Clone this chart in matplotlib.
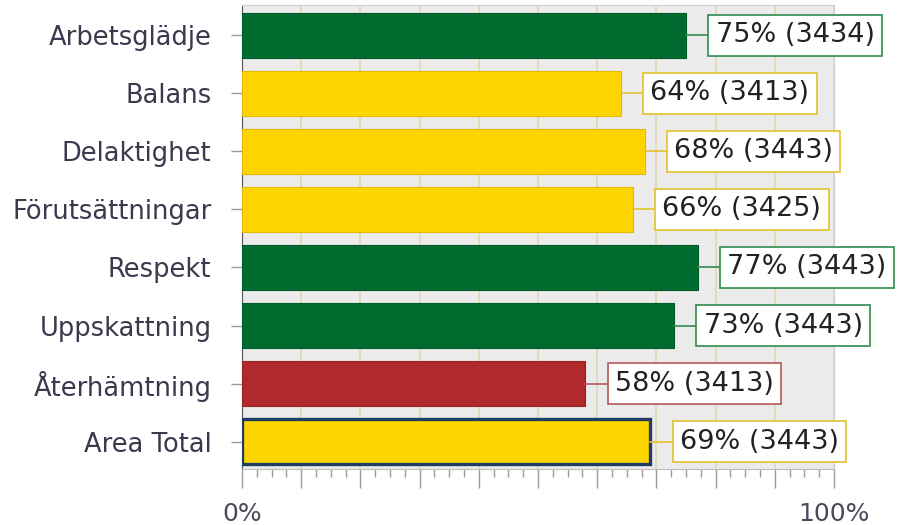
import matplotlib.pyplot as plt
from matplotlib.ticker import MultipleLocator, FuncFormatter

categories = ["Arbetsglädje", "Balans", "Delaktighet", "Förutsättningar",
              "Respekt", "Uppskattning", "Återhämtning", "Area Total"]
percent = [75, 64, 68, 66, 77, 73, 58, 69]
counts = [3434, 3413, 3443, 3425, 3443, 3443, 3413, 3443]
levels = ["green", "yellow", "yellow", "yellow", "green", "green", "red", "yellow"]

fill = {"green": "#006b2f", "yellow": "#ffd500", "red": "#b0292b"}
edge = {"green": "#005a27", "yellow": "#e3b800", "red": "#9a2224"}
box_edge = {"green": "#2f8a4f", "yellow": "#e2c22a", "red": "#b5585a"}

plt.rcParams['font.family'] = ['DejaVu Sans']

fig = plt.figure(figsize=(8.97, 5.25), dpi=100)
ax = fig.add_axes([242 / 897, 1 - 469 / 525, (834 - 242) / 897, 464 / 525])
ax.set_facecolor("#ebebeb")

ypos = list(range(len(categories)))
for i in ypos:
    lw = 0.8
    ec = edge[levels[i]]
    if categories[i] == "Area Total":
        lw = 2.4
        ec = "#1f3d63"
    ax.barh(i, percent[i], height=0.77, color=fill[levels[i]], edgecolor=ec,
            linewidth=lw, zorder=3)

    # value label in a box, joined to the bar end by a short line
    x0 = percent[i]
    gap = 5.0
    ax.plot([x0, x0 + gap], [i, i], color=box_edge[levels[i]], lw=1.2,
            zorder=4, clip_on=False)
    ax.text(x0 + gap, i, f"{percent[i]}% ({counts[i]})", ha="left", va="center",
            fontsize=19.5, color="#222222", zorder=5, clip_on=False,
            bbox=dict(boxstyle="square,pad=0.27", facecolor="white",
                      edgecolor=box_edge[levels[i]], linewidth=1.2))

ax.set_xlim(0, 100)
ax.set_ylim(7.47, -0.52)
ax.set_yticks(ypos)
ax.set_yticklabels(categories)

ax.xaxis.set_major_locator(MultipleLocator(10))
ax.xaxis.set_minor_locator(MultipleLocator(2.5))
ax.xaxis.set_major_formatter(FuncFormatter(lambda v, p: f"{int(v)}%" if v in (0, 100) else ""))
ax.grid(axis="x", which="major", color="#e3d6b4", linewidth=1.2, zorder=0)
ax.set_axisbelow(True)

ax.tick_params(axis="x", which="major", length=14, width=1, color="#9a9a9a",
               labelsize=18, labelcolor="#4a4a5a", pad=10)
ax.tick_params(axis="x", which="minor", length=6, width=1, color="#9a9a9a")
ax.tick_params(axis="y", length=8, width=1, color="#9a9a9a",
               labelsize=18.5, labelcolor="#3a3a4e", pad=14)

for s in ["top", "right"]:
    ax.spines[s].set_color("#d0d0d0")
ax.spines["left"].set_color("#555555")
ax.spines["bottom"].set_color("#bdbdbd")

fig.savefig("out.png", dpi=100)
